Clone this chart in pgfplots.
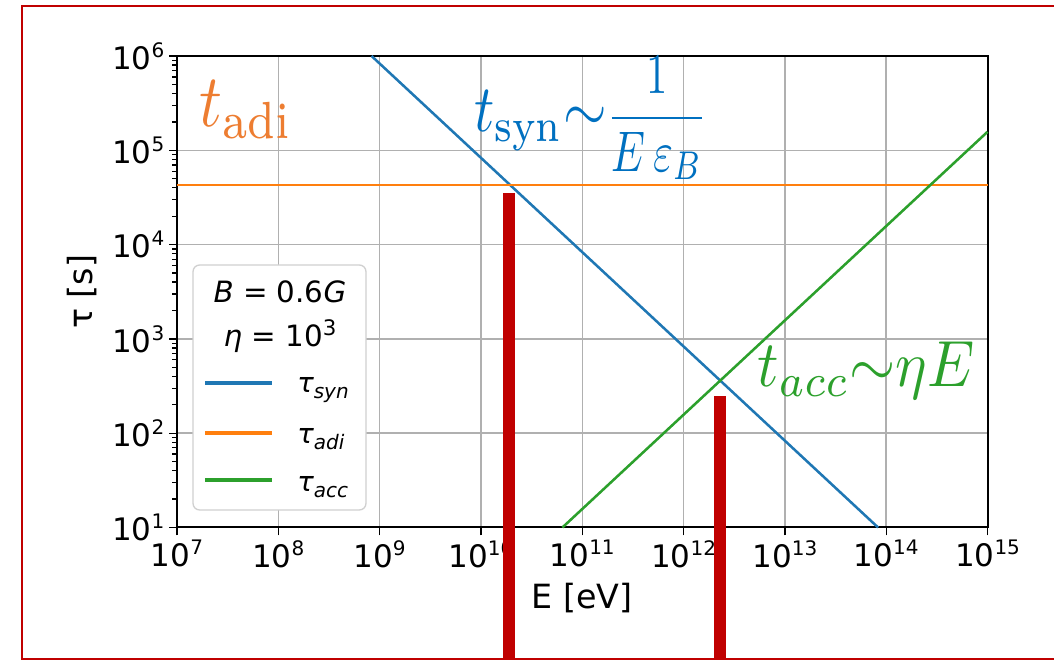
\documentclass[border=0pt]{standalone}
\usepackage{graphicx}
\usepackage{pgfplots}
\pgfplotsset{compat=1.18}
\usepackage{fontspec}
\newfontfamily\dvs{DejaVu Sans}

\definecolor{syncol}{HTML}{1F77B4}
\definecolor{adicol}{HTML}{FF7F0E}
\definecolor{acccol}{HTML}{2CA02C}
\definecolor{adiText}{HTML}{ED7D31}
\definecolor{synText}{HTML}{0070C0}
\definecolor{accText}{HTML}{2CA02C}
\definecolor{markred}{HTML}{C00000}
\definecolor{gridgray}{HTML}{B0B0B0}
\definecolor{leggray}{HTML}{D0D0D0}

\newcommand\tickfont{\dvs\fontsize{23.25}{28}\selectfont}
\newcommand\pw[1]{10\raisebox{9pt}{\fontsize{15}{18}\selectfont #1}}
\newcommand\legfont{\dvs\fontsize{20.6}{24}\selectfont}
\newcommand\titlefont{\dvs\fontsize{22}{26}\selectfont}
\newcommand\sub[1]{\raisebox{-4.5pt}{\fontsize{15}{18}\selectfont\itshape #1}}

\begin{document}
\begin{tikzpicture}
\begin{axis}[
  at={(132.75pt,99.375pt)}, anchor=south west,
  scale only axis, width=607.875pt, height=353.625pt,
  xmode=log, ymode=log,
  xmin=1e7, xmax=1e15, ymin=10, ymax=1e6,
  clip=false, set layers,
  xtick={1e7,1e8,1e9,1e10,1e11,1e12,1e13,1e14,1e15},
  xticklabels={\pw{7},\pw{8},\pw{9},\pw{10},\pw{11},\pw{12},\pw{13},\pw{14},\pw{15}},
  ytick={1e1,1e2,1e3,1e4,1e5,1e6},
  yticklabels={\pw{1},\pw{2},\pw{3},\pw{4},\pw{5},\pw{6}},
  xtick pos=bottom, ytick pos=left,
  xminorticks=false,
  grid=major,
  major grid style={draw=gridgray, line width=1.1pt},
  tick align=outside,
  major tick length=6pt, minor tick length=3.5pt,
  every tick/.style={black, line width=1pt},
  axis line style={line width=1.5pt},
  tick label style={font=\tickfont},
]
% synchrotron cooling time, tau ~ 1/E
\addplot[syncol, line width=1.9pt] coordinates {(8.32e8,1e6) (8.32e13,10)};
% adiabatic time, constant
\addplot[adicol, line width=1.9pt] coordinates {(1e7,43000) (1e15,43000)};
% acceleration time, tau ~ eta E
\addplot[acccol, line width=1.9pt] coordinates {(6.37e10,10) (1e15,1.57e5)};
% highlighted crossing energies
\addplot[markred, line width=9pt, line cap=butt] coordinates {(1.89e10,0.25) (1.89e10,35500)};
\addplot[markred, line width=9pt, line cap=butt] coordinates {(2.29e12,0.25) (2.29e12,248)};
\end{axis}

\begin{scope}[x=0.75pt,y=0.75pt]
% axis labels
\node[anchor=base, font=\dvs\fontsize{25}{30}\selectfont, inner sep=0] at (582.25,51) {E [eV]};
\node[anchor=base, rotate=90, font=\dvs\fontsize{25}{30}\selectfont, inner sep=0] at (92,368.25) {τ [s]};

% legend
\draw[rounded corners=5pt, draw=leggray, fill=white, line width=1pt] (193,150) rectangle (366,395);
\node[anchor=base, font=\titlefont, inner sep=0] at (280,357) {{\itshape B} = 0.6{\itshape G}};
\node[anchor=base, font=\titlefont, inner sep=0] at (280,313) {{\itshape η} = 10\raisebox{8.5pt}{\fontsize{16}{18}\selectfont 3}};
\draw[syncol, line width=2.4pt] (205,277) -- (272,277);
\draw[adicol, line width=2.4pt] (205,227) -- (272,227);
\draw[acccol, line width=2.4pt] (205,180) -- (272,180);
\node[anchor=base west, font=\legfont, inner sep=0] at (297,267) {{\itshape τ}\sub{syn}};
\node[anchor=base west, font=\legfont, inner sep=0] at (297,216) {{\itshape τ}\sub{adi}};
\node[anchor=base west, font=\legfont, inner sep=0] at (297,168) {{\itshape τ}\sub{acc}};

% curve annotations
\node[anchor=base west, text=adiText, inner sep=0] at (199,533)
  {\scalebox{4.75}[5.6]{\normalsize$t_{\mathrm{adi}}$}};
\node[anchor=base west, text=synText, inner sep=0] at (474,528)
  {\scalebox{4.2}[5.0]{\normalsize$t_{\mathrm{syn}}{\sim}$}%
   \scalebox{3.2}[4.3]{\normalsize$\displaystyle\frac{1}{E\,\varepsilon_B}$}};
\node[anchor=base west, text=accText, inner sep=0] at (757,273)
  {\scalebox{4.45}[4.9]{\normalsize$t_{acc}{\sim}\eta E$}};

% outer frame
\draw[markred, line width=1.6pt] (1080,654) -- (22,654) -- (22,1) -- (1080,1);

\pgfresetboundingbox
\path[use as bounding box] (0,0) rectangle (1054,660);
\end{scope}
\end{tikzpicture}
\end{document}
